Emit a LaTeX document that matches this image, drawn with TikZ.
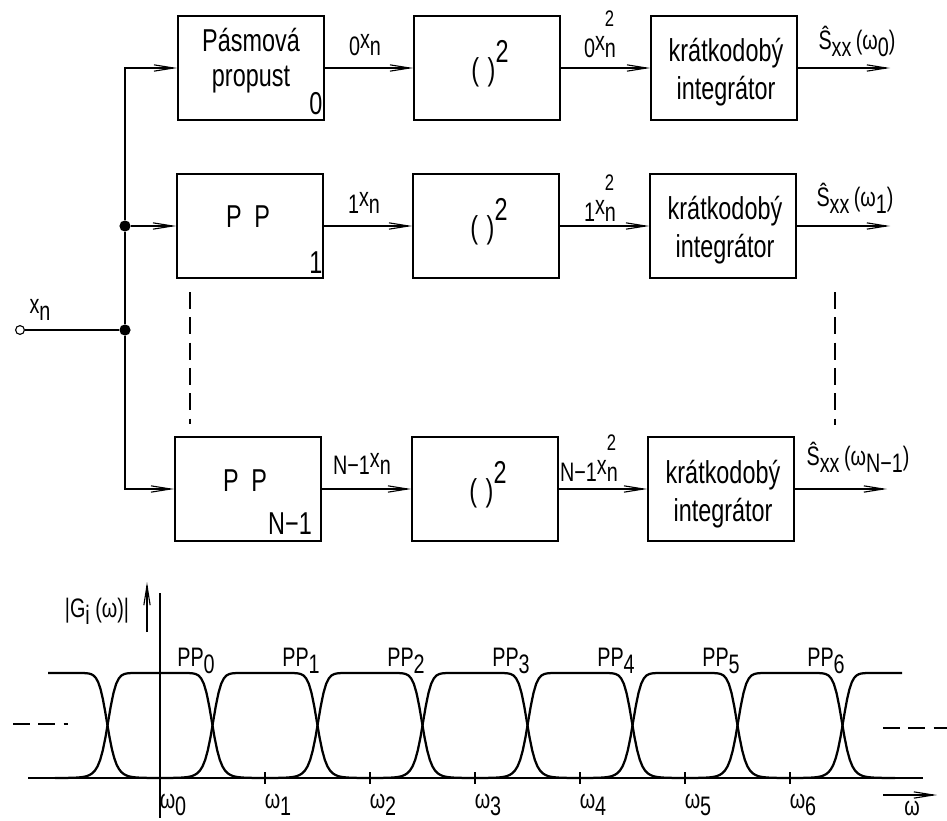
\documentclass[tikz,border=0pt]{standalone}
\usepackage{fontspec}
\setmainfont[FakeStretch=0.74]{Liberation Sans}
\usetikzlibrary{arrows.meta}
\newcommand{\dn}[1]{\raisebox{-0.5ex}{#1}}
\newcommand{\up}[1]{\raisebox{1.1ex}{#1}}
\newcommand{\sqn}{\rlap{\raisebox{1.7ex}{\fontsize{16}{16}\selectfont 2}}\dn{n}}
\tikzset{
  blk/.style={draw,line width=1.1pt,minimum width=3.65cm,minimum height=2.6cm,inner sep=0pt},
  txt/.style={font=\fontsize{22.5}{25}\selectfont,inner sep=0pt},
  lbl/.style={font=\fontsize{19}{19}\selectfont,inner sep=0pt},
  wire/.style={line width=0.8pt},
  sig/.style={line width=0.8pt,-{Straight Barb[length=14pt,width=4.5pt]}},
  gap/.style={line width=0.8pt,dash pattern=on 12pt off 6pt},
  dot/.style={circle,fill,inner sep=0pt,minimum size=0.28cm},
  resp/.style={line width=1.6pt}
}
\begin{document}
\begin{tikzpicture}[x=0.025cm,y=-0.025cm]
\useasboundingbox (0,0) rectangle (947,821);

\node[blk] (pp0) at (251,68) {};
\node[blk] (sq0) at (487,68) {};
\node[blk] (int0) at (724,68) {};
\node[blk] (pp1) at (250,226) {};
\node[blk] (sq1) at (486,226) {};
\node[blk] (int1) at (723,226) {};
\node[blk] (pp2) at (248,489) {};
\node[blk] (sq2) at (485,489) {};
\node[blk] (int2) at (721,489) {};

\node[txt,align=center] at (251,61) {Pásmová\\propust};
\node[txt] at (316,104) {0};
\node[txt] at (248,217) {P\hspace{9pt}P};
\node[txt] at (316,263) {1};
\node[txt] at (245,481) {P\hspace{9pt}P};
\node[txt] at (290,524) {N−1};

\node[txt] at (490,64) {(\hspace{6pt})\up{2}};
\node[txt] at (489,222) {(\hspace{6pt})\up{2}};
\node[txt] at (488,485) {(\hspace{6pt})\up{2}};

\node[txt,align=center,font=\fontsize{22.5}{27}\selectfont] at (726,72) {krátkodobý\\integrátor};
\node[txt,align=center,font=\fontsize{22.5}{27}\selectfont] at (725,230) {krátkodobý\\integrátor};
\node[txt,align=center,font=\fontsize{22.5}{27}\selectfont] at (723,494) {krátkodobý\\integrátor};

\node[circle,draw,line width=0.8pt,inner sep=0pt,minimum size=0.22cm] (in) at (20,330) {};
\node[lbl] (xin) at (40,310) {x\dn{n}};
\node[dot] (j1) at (125,226) {};
\node[dot] (j2) at (125,330) {};

\draw[wire] (in) -- (j2);
\draw[wire] (j2) -- (j1);
\draw[sig] (j1) |- (pp0.west);
\draw[sig] (j1) -- (pp1.west);
\draw[sig] (j2) |- (pp2.west);

\draw[sig] (pp0.east) -- (sq0.west);
\draw[sig] (sq0.east) -- (int0.west);
\draw[sig] (pp1.east) -- (sq1.west);
\draw[sig] (sq1.east) -- (int1.west);
\draw[sig] (pp2.east) -- (sq2.west);
\draw[sig] (sq2.east) -- (int2.west);

\coordinate (out0) at (890,68);
\coordinate (out1) at (890,226);
\coordinate (out2) at (887,489);
\draw[sig] (int0.east) -- (out0);
\draw[sig] (int1.east) -- (out1);
\draw[sig] (int2.east) -- (out2);

\node[lbl] (x0) at (365,45) {\dn{0}x\dn{n}};
\node[lbl] (x1) at (364,203) {\dn{1}x\dn{n}};
\node[lbl] (x2) at (362,464) {\dn{N−1}x\dn{n}};
\node[lbl] (q0) at (600,34) {\dn{0}x\sqn};
\node[lbl] (q1) at (600,198) {\dn{1}x\sqn};
\node[lbl] (q2) at (589,458) {\dn{N−1}x\sqn};
\node[lbl] (s0) at (857,41) {Ŝ\dn{xx}\,(ω\dn{0})};
\node[lbl] (s1) at (855,198) {Ŝ\dn{xx}\,(ω\dn{1})};
\node[lbl] (s2) at (858,457) {Ŝ\dn{xx}\,(ω\dn{N−1})};

\draw[gap] (190,292) -- (190,424);
\draw[gap] (835,292) -- (835,425);

\draw[wire,line width=1pt] (160,593) -- (160,818);
\draw[wire,line width=1pt] (28,778) -- (923,778);
\draw[sig] (147,632) -- (147,582);
\draw[sig] (883,795) -- (937,795);
\node[lbl] (gl) at (97,611) {|G\dn{i} (ω)|};
\node[lbl] (wl) at (912,808) {ω};
\draw[gap] (13,724) -- (68,724);
\draw[gap] (883,728) -- (947,728);

\draw[resp] plot[domain=48:160,samples=50] (\x,{778-105/(1+(abs(\x-55)/52.5)^12)});
\draw[resp] plot[domain=790:902,samples=50] (\x,{778-105/(1+(abs(\x-895)/52.5)^12)});
\foreach \k [evaluate=\k as \c using 160+105*\k] in {0,...,6} {
  \draw[resp] plot[domain=\c-105:\c+105,samples=80] (\x,{778-105/(1+(abs(\x-\c)/52.5)^12)});
  \draw[wire] (\c,772) -- (\c,784);
  \node[lbl] (band\k) at (\c+36,661) {PP\dn{\k}};
  \node[lbl] (w\k) at (\c+13,805) {ω\dn{\k}};
}
\end{tikzpicture}
\end{document}
